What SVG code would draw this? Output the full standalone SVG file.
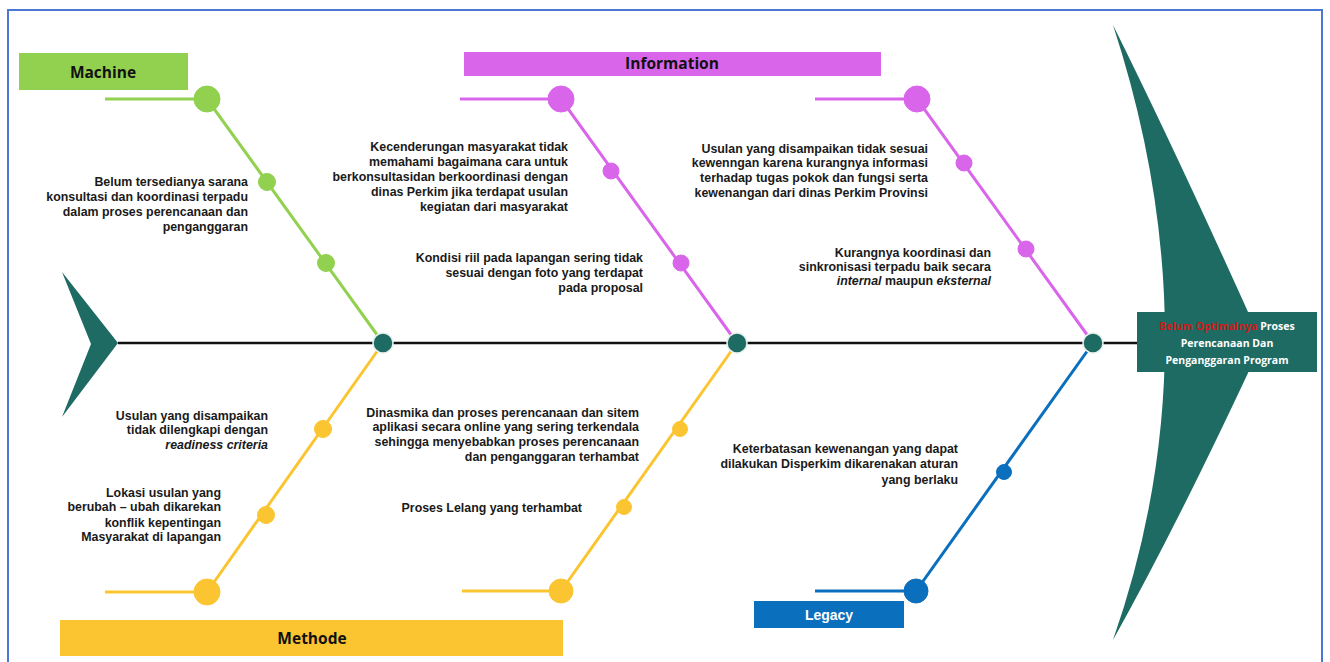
<svg xmlns="http://www.w3.org/2000/svg" width="1330" height="662" viewBox="0 0 1330 662">
<style>
.t{font-family:"Liberation Sans",Arial,sans-serif;font-weight:bold;font-size:12.4px;fill:#1a1a1a;text-anchor:end}
.lbl{font-family:"Open Sans","Liberation Sans",sans-serif;font-weight:bold;font-size:15.5px;text-anchor:middle}
.g{stroke:#92d050;fill:#92d050}
.m{stroke:#d966ea;fill:#d966ea}
.y{stroke:#fbc532;fill:#fbc532}
.b{stroke:#0a6fbd;fill:#0a6fbd}
.ln{stroke-width:3;fill:none}
.hub{fill:#1e6b63;stroke:#e6f0ea;stroke-width:1.5}
.head{font-family:"Open Sans","Liberation Sans",sans-serif;font-weight:bold;font-size:10.5px;fill:#ffffff;text-anchor:middle}
</style>
<rect x="0" y="0" width="1330" height="662" fill="#ffffff"/>
<rect x="8" y="10" width="1314" height="662" fill="none" stroke="#4a78d4" stroke-width="2"/>

<g id="tail">
<path d="M62,272 L118,343 L62,417 L91,344 Z" fill="#1e6b63"/>
</g>
<g id="head">
<path d="M1113,25 Q1180,160 1262,343 Q1180,520 1113,640 Q1217,343 1113,25 Z" fill="#1e6b63"/>
<rect x="1137" y="312" width="180" height="60" fill="#1e6b63"/>
<text class="head" x="1227" y="330"><tspan fill="#d01818">Belum Optimalnya</tspan> Proses</text>
<text class="head" x="1227" y="347">Perencanaan Dan</text>
<text class="head" x="1227" y="364">Penganggaran Program</text>
</g>

<g id="connectors">
<line x1="118" y1="343" x2="1137" y2="343" stroke="#111" stroke-width="2.5"/>
<polyline class="g ln" points="105,99 207,99 383,343"/>
<polyline class="m ln" points="460,99 561,99 737,343"/>
<polyline class="m ln" points="815,99 917,99 1093,343"/>
<polyline class="y ln" points="105,592 207,592 383,343"/>
<polyline class="y ln" points="462,591 561,591 737,343"/>
<polyline class="b ln" points="815,591 916,591 1093,343"/>
</g>

<g id="machine">
<rect x="19" y="53" width="169" height="37" fill="#92d050"/>
<text class="lbl" x="103" y="78" fill="#111">Machine</text>
<circle class="g" cx="207" cy="99" r="13"/>
<circle class="g" cx="267" cy="182" r="8.5"/>
<circle class="g" cx="326" cy="263" r="8.5"/>
<text class="t" x="248" y="186">Belum tersedianya sarana</text>
<text class="t" x="248" y="201">konsultasi dan koordinasi terpadu</text>
<text class="t" x="248" y="216">dalam proses perencanaan dan</text>
<text class="t" x="248" y="231">penganggaran</text>
</g>

<g id="information">
<rect x="464" y="52" width="417" height="24" fill="#d966ea"/>
<text class="lbl" x="672" y="69" fill="#111">Information</text>
<circle class="m" cx="561" cy="99" r="13"/>
<circle class="m" cx="611" cy="171" r="8"/>
<circle class="m" cx="681" cy="263" r="8"/>
<text class="t" x="568" y="151">Kecenderungan masyarakat tidak</text>
<text class="t" x="568" y="166">memahami bagaimana cara untuk</text>
<text class="t" x="568" y="181">berkonsultasidan berkoordinasi dengan</text>
<text class="t" x="568" y="196">dinas Perkim jika terdapat usulan</text>
<text class="t" x="568" y="211">kegiatan dari masyarakat</text>
<text class="t" x="643" y="262">Kondisi riil pada lapangan sering tidak</text>
<text class="t" x="643" y="277">sesuai dengan foto yang terdapat</text>
<text class="t" x="643" y="292">pada proposal</text>
<circle class="m" cx="917" cy="99" r="13"/>
<circle class="m" cx="964" cy="163" r="8"/>
<circle class="m" cx="1026" cy="249" r="8"/>
<text class="t" x="928" y="153">Usulan yang disampaikan tidak sesuai</text>
<text class="t" x="928" y="167">kewenngan karena kurangnya informasi</text>
<text class="t" x="928" y="182">terhadap tugas pokok dan fungsi serta</text>
<text class="t" x="928" y="197">kewenangan dari dinas Perkim Provinsi</text>
<text class="t" x="991" y="257">Kurangnya koordinasi dan</text>
<text class="t" x="991" y="271">sinkronisasi terpadu baik secara</text>
<text class="t" x="991" y="285"><tspan font-style="italic">internal</tspan> maupun <tspan font-style="italic">eksternal</tspan></text>
</g>

<g id="methode">
<rect x="60" y="620" width="503" height="36" fill="#fbc532"/>
<text class="lbl" x="312" y="644" fill="#111">Methode</text>
<circle class="y" cx="207" cy="592" r="13"/>
<circle class="y" cx="323" cy="429" r="8.5"/>
<circle class="y" cx="266" cy="515" r="8.5"/>
<text class="t" x="268" y="420">Usulan yang disampaikan</text>
<text class="t" x="268" y="434">tidak dilengkapi dengan</text>
<text class="t" x="268" y="449" font-style="italic">readiness criteria</text>
<text class="t" x="221" y="497">Lokasi usulan yang</text>
<text class="t" x="221" y="511">berubah – ubah dikarekan</text>
<text class="t" x="221" y="527">konflik kepentingan</text>
<text class="t" x="221" y="541">Masyarakat di lapangan</text>
<circle class="y" cx="561" cy="591" r="12"/>
<circle class="y" cx="680" cy="429" r="7.5"/>
<circle class="y" cx="624" cy="507" r="7.5"/>
<text class="t" x="639" y="417">Dinasmika dan proses perencanaan dan sitem</text>
<text class="t" x="639" y="431">aplikasi secara online yang sering terkendala</text>
<text class="t" x="639" y="446">sehingga menyebabkan proses perencanaan</text>
<text class="t" x="639" y="461">dan penganggaran terhambat</text>
<text class="t" x="582" y="512">Proses Lelang yang terhambat</text>
</g>

<g id="legacy">
<rect x="754" y="601" width="150" height="27" fill="#0a6fbd"/>
<text class="lbl" x="829" y="620" fill="#ffffff" style="font-family:'Liberation Sans',Arial,sans-serif;font-size:14px">Legacy</text>
<circle class="b" cx="916" cy="591" r="12"/>
<circle class="b" cx="1004" cy="472" r="7.5"/>
<text class="t" x="958" y="453">Keterbatasan kewenangan yang dapat</text>
<text class="t" x="958" y="468">dilakukan Disperkim dikarenakan aturan</text>
<text class="t" x="958" y="484">yang berlaku</text>
</g>

<g id="hubs">
<circle class="hub" cx="383" cy="343" r="10"/>
<circle class="hub" cx="737" cy="343" r="10"/>
<circle class="hub" cx="1093" cy="343" r="10"/>
</g>
</svg>
